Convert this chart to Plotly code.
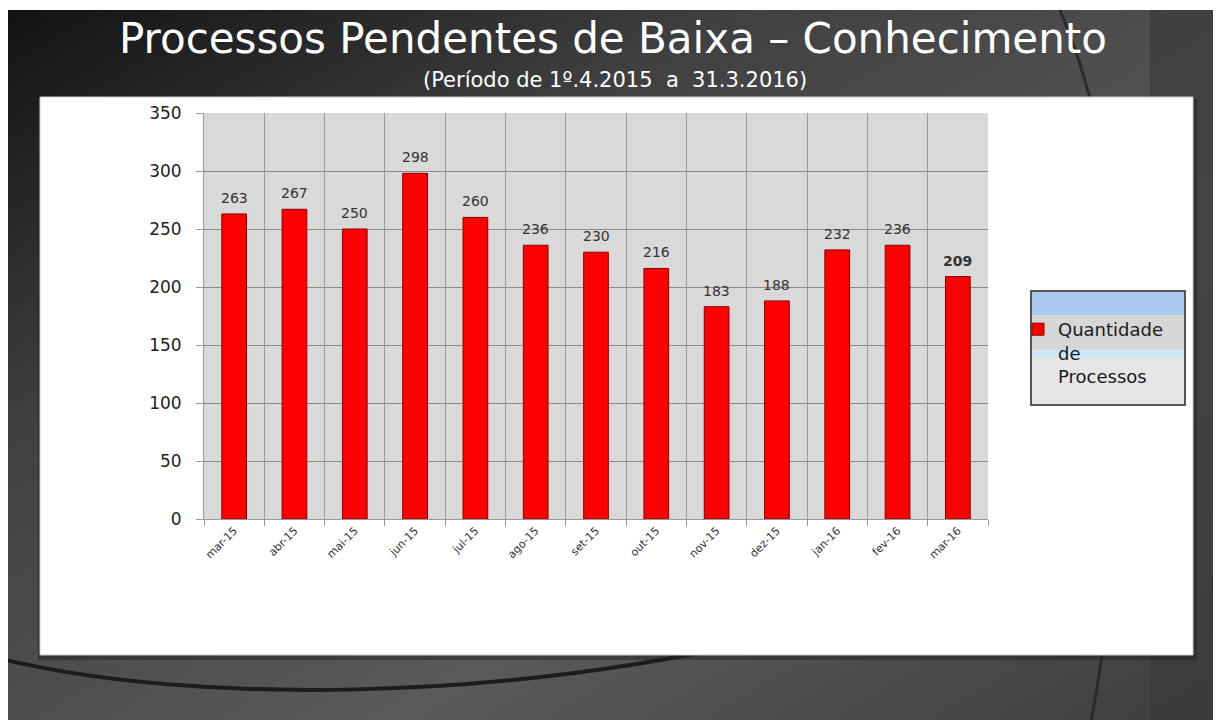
import base64
import plotly.graph_objects as go

categories = ["mar-15", "abr-15", "mai-15", "jun-15", "jul-15", "ago-15", "set-15",
              "out-15", "nov-15", "dez-15", "jan-16", "fev-16", "mar-16"]
values = [263, 267, 250, 298, 260, 236, 230, 216, 183, 188, 232, 236, 209]
y_ticks = [0, 50, 100, 150, 200, 250, 300, 350]
series_name = "Quantidade<br>de<br>Processos"
title_text = "Processos Pendentes de Baixa – Conhecimento"
subtitle_text = "(Período de 1º.4.2015  a  31.3.2016)"

W, H = 1221, 720
O = 8  # page body offset
L, R, T, B = 204 - O, W - (988 - O), 113 - O, H - (519 - O)
PW, PH = W - L - R, H - T - B


def px(x):
    return (x - O - L) / PW


def py(y):
    return (H - B - (y - O)) / PH


svg = f"""<svg xmlns='http://www.w3.org/2000/svg' width='{W}' height='{H}' viewBox='0 0 {W} {H}'>
<defs>
<linearGradient id='g' x1='0' y1='0' x2='1' y2='1'>
<stop offset='0' stop-color='#121212'/>
<stop offset='0.3' stop-color='#404040'/>
<stop offset='0.65' stop-color='#5a5a5a'/>
<stop offset='1' stop-color='#3c3c3c'/>
</linearGradient>
</defs>
<rect x='0' y='0' width='{W}' height='{H}' fill='white'/>
<rect x='0' y='2' width='{W}' height='{H}' fill='url(#g)'/>
<path d='M-2,652 C190,697 490,692 752,632' stroke='#1c1c1c' stroke-width='4' fill='none'/>
<path d='M1052,2 C1112,142 1142,392 1082,720' stroke='#2a2a2a' stroke-width='3' fill='none'/>
<rect x='1142' y='2' width='90' height='720' fill='#3a3a3a' opacity='0.7'/>
<rect x='30' y='90' width='1159' height='562' fill='#222222' opacity='0.5'/>
</svg>"""
src = "data:image/svg+xml;base64," + base64.b64encode(svg.encode()).decode()

fig = go.Figure()
fig.add_trace(go.Bar(
    x=categories, y=values, name=series_name,
    marker=dict(color="#ff0000", line=dict(color="#8a0000", width=1)),
    showlegend=True,
))

annotations = []
for i, (c, v) in enumerate(zip(categories, values)):
    annotations.append(dict(
        x=c, y=v, xref="x", yref="y", text=(f"<b>{v}</b>" if i == len(values) - 1 else str(v)),
        showarrow=False, yshift=16, font=dict(family="DejaVu Sans", size=14, color="#333333"),
    ))

annotations += [
    dict(x=px(613), y=py(38), xref="paper", yref="paper", text=title_text, showarrow=False,
         font=dict(family="DejaVu Sans", size=42, color="white"), xanchor="center", yanchor="middle"),
    dict(x=px(615), y=py(80), xref="paper", yref="paper", text=subtitle_text, showarrow=False,
         font=dict(family="DejaVu Sans", size=21, color="white"), xanchor="center", yanchor="middle"),
]

shapes = [
    dict(type="rect", xref="paper", yref="paper", x0=px(40), x1=px(1193), y0=py(97), y1=py(655),
         fillcolor="white", line=dict(color="#cccccc", width=1), layer="below"),
    dict(type="rect", xref="paper", yref="paper", x0=0, x1=1, y0=0, y1=1,
         fillcolor="#d9d9d9", line=dict(width=0), layer="below"),
    dict(type="rect", xref="paper", yref="paper", x0=px(1031), x1=px(1185), y0=py(291), y1=py(405),
         fillcolor="#e6e6e6", line=dict(color="#555555", width=2), layer="below"),
    dict(type="rect", xref="paper", yref="paper", x0=px(1032), x1=px(1184), y0=py(292), y1=py(315),
         fillcolor="#a9c9ee", line=dict(width=0), layer="below"),
    dict(type="rect", xref="paper", yref="paper", x0=px(1032), x1=px(1184), y0=py(315), y1=py(350),
         fillcolor="#d6d6d6", line=dict(width=0), layer="below"),
    dict(type="rect", xref="paper", yref="paper", x0=px(1032), x1=px(1184), y0=py(350), y1=py(358),
         fillcolor="#cfe6f7", line=dict(width=0), layer="below"),
]

fig.update_layout(
    width=W, height=H,
    margin=dict(l=L, r=R, t=T, b=B, pad=0),
    paper_bgcolor="#3c3c3c",
    plot_bgcolor="#d9d9d9",
    bargap=0.59,
    images=[dict(source=src, xref="paper", yref="paper", x=-L / PW, y=1 + T / PH,
                 sizex=W / PW, sizey=H / PH, xanchor="left", yanchor="top",
                 sizing="stretch", layer="below")],
    shapes=shapes,
    annotations=annotations,
    legend=dict(x=px(1018), y=py(311), xanchor="left", yanchor="top",
                bgcolor="rgba(0,0,0,0)", borderwidth=0,
                font=dict(family="DejaVu Sans", size=18, color="#1a1a1a"),
                itemwidth=30, valign="top", tracegroupgap=0),
    xaxis=dict(type="category", tickson="boundaries", showgrid=True, gridcolor="#9a9a9a",
               gridwidth=1, tickangle=-45, ticks="outside", ticklen=6, tickcolor="#999999",
               tickfont=dict(family="DejaVu Sans", size=11, color="#333333"),
               showline=True, linecolor="#999999", linewidth=1),
    yaxis=dict(range=[0, 350], tickvals=y_ticks, showgrid=True, gridcolor="#8a8a8a",
               gridwidth=1, ticks="outside", ticklen=7, tickcolor="#999999",
               tickfont=dict(family="DejaVu Sans", size=17, color="#222222"),
               showline=True, linecolor="#999999", linewidth=1, zeroline=False, ticklabelstandoff=11),
    font=dict(family="DejaVu Sans"),
)

fig.write_html("out.html")
